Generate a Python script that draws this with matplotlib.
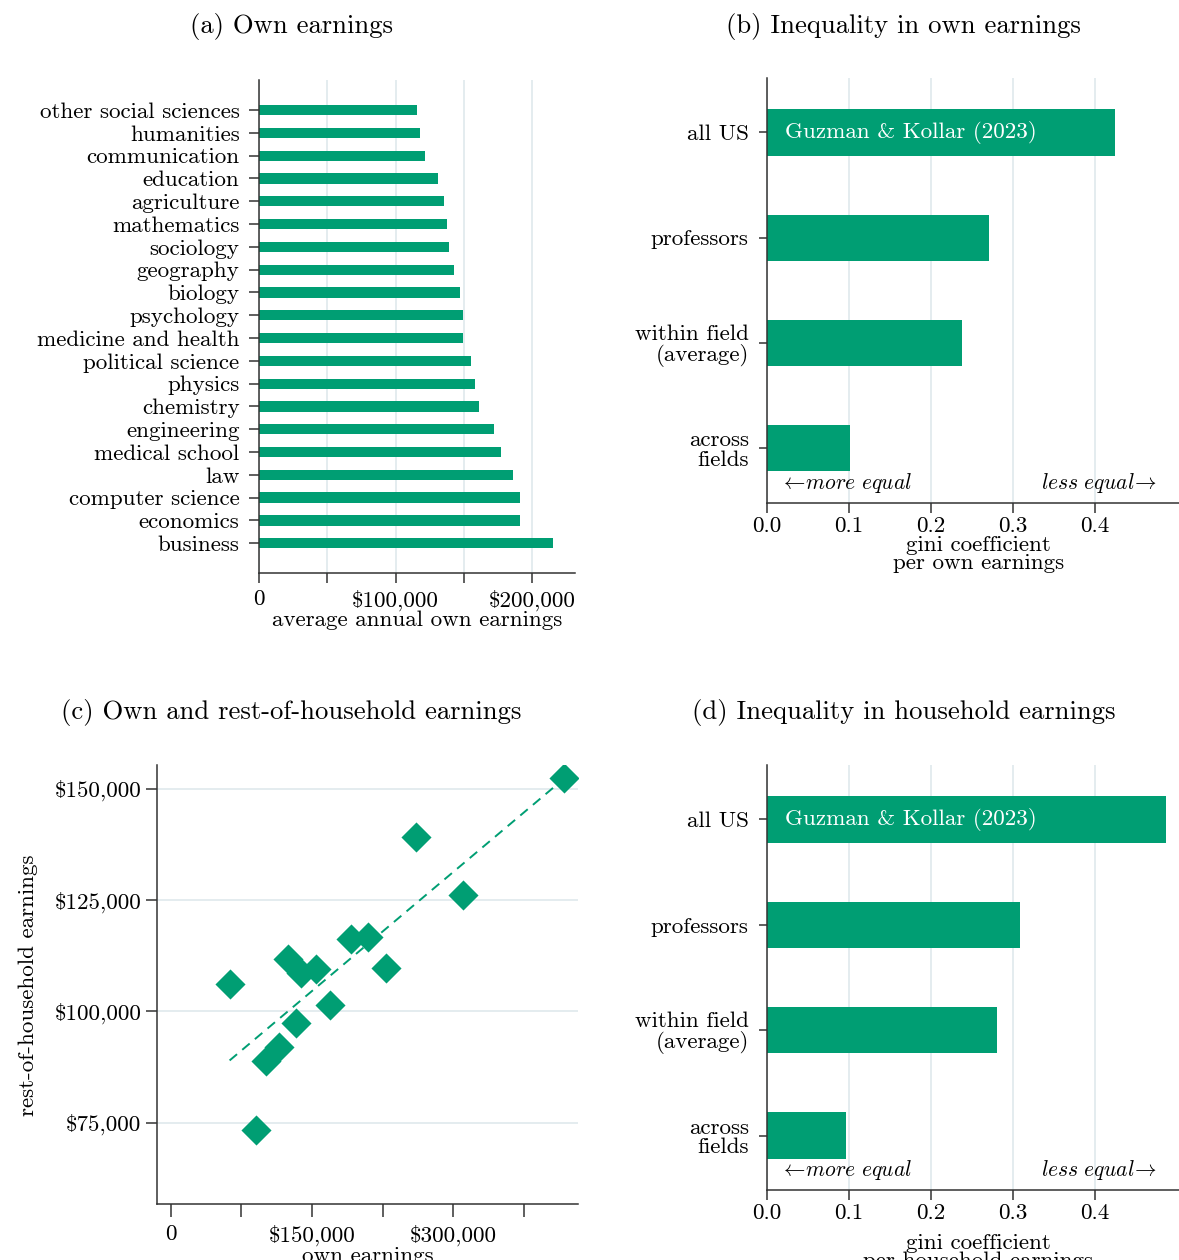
import numpy as np
import matplotlib
matplotlib.use("Agg")
import matplotlib.pyplot as plt
from matplotlib.transforms import blended_transform_factory

plt.rcParams['font.family'] = 'cmr10'
plt.rcParams['mathtext.fontset'] = 'cm'
plt.rcParams['axes.unicode_minus'] = False

GREEN = '#009E73'
GRID = '#E2EBEE'
SPINE = '#333333'
FS = 16.6
TFS = 19.2

# (a) average annual own earnings by field
fields = ['business', 'economics', 'computer science', 'law', 'medical school',
          'engineering', 'chemistry', 'physics', 'political science',
          'medicine and health', 'psychology', 'biology', 'geography',
          'sociology', 'mathematics', 'agriculture', 'education',
          'communication', 'humanities', 'other social sciences']
own_earn = [215000, 191000, 190600, 186000, 177300, 172300, 161300, 158300,
            155000, 149400, 149200, 147200, 142800, 138700, 137800, 135600,
            130900, 121500, 117700, 115800]

# (b) and (d) gini coefficients
gini_groups = ['across\nfields', 'within field\n(average)', 'professors', 'all US']
gini_own = [0.101, 0.238, 0.271, 0.424]
gini_household = [0.097, 0.281, 0.309, 0.487]

# (c) own vs rest-of-household earnings, one point per field
own_x = [62500, 124000, 138000, 154000, 191000, 209000, 228500, 169500,
         132500, 115000, 101000, 90000, 260000, 310000, 417000]
rest_y = [106200, 111700, 108500, 109400, 116300, 116700, 109600, 101500,
          97300, 91900, 88800, 73400, 139100, 126000, 152300]

fig = plt.figure(figsize=(11.79, 12.60), dpi=100)


def style_axes(ax):
    for side in ['top', 'right']:
        ax.spines[side].set_visible(False)
    for side in ['left', 'bottom']:
        ax.spines[side].set_color(SPINE)
        ax.spines[side].set_linewidth(1.1)
    ax.set_axisbelow(True)
    ax.tick_params(which='both', direction='out', color=SPINE, width=1.1,
                   labelsize=FS)


def money(v):
    return '0' if v == 0 else '\\$' + format(int(v), ',')


# ---- (a) own earnings ----
ax = fig.add_axes([0.21968, 0.54500, 0.26802, 0.39151])
style_axes(ax)
ypos = np.arange(len(fields))
ax.barh(ypos, own_earn, height=0.45, color=GREEN)
ax.set_ylim(-1.32, len(fields) - 1 + 1.32)
ax.set_xlim(0, 231200)
ax.set_yticks(ypos)
ax.set_yticklabels(fields)
ax.set_xticks([0, 100000, 200000])
ax.set_xticklabels([money(v) for v in [0, 100000, 200000]])
ax.set_xticks([50000, 150000], minor=True)
ax.tick_params(axis='y', length=7, pad=7)
ax.tick_params(axis='x', which='both', length=7, pad=5)
ax.xaxis.grid(True, which='both', color=GRID, lw=1.3)
ax.set_xlabel('average annual own earnings', fontsize=FS, va='center')
ax.xaxis.set_label_coords(0.5, -0.0950)
fig.text(291 / 1179, 1 - 26 / 1260, '(a) Own earnings', fontsize=TFS,
         ha='center', va='center')


def gini_panel(ax, values, xlabel, label_y):
    style_axes(ax)
    pos = np.arange(len(gini_groups))
    ax.barh(pos, values, height=0.44, color=GREEN)
    ax.set_ylim(-0.517, 3.517)
    ax.set_xlim(0, 0.516)
    ax.set_yticks(pos)
    ax.set_yticklabels(gini_groups, linespacing=1.0)
    for lab in ax.get_yticklabels():
        if '\n' in lab.get_text():
            lab.set_y(lab.get_position()[1] + 0.04)
    ax.set_xticks([0, 0.1, 0.2, 0.3, 0.4])
    ax.set_xticklabels(['0.0', '0.1', '0.2', '0.3', '0.4'])
    ax.tick_params(axis='y', length=6, pad=7)
    ax.tick_params(axis='x', length=7, pad=3)
    ax.xaxis.grid(True, color=GRID, lw=1.3)
    ax.set_xlabel(xlabel, fontsize=FS, va='center', linespacing=0.92)
    ax.xaxis.set_label_coords(0.5, label_y)
    ax.text(0.022, pos[-1], 'Guzman & Kollar (2023)', color='white',
            fontsize=FS, va='center', ha='left')
    tr = blended_transform_factory(ax.transData, ax.transAxes)
    ax.text(0.016, 0.046, r'$\leftarrow\!\mathit{more\ equal}$', transform=tr,
            fontsize=15.5, ha='left', va='center')
    ax.text(0.475, 0.046, r'$\mathit{less\ equal}\!\rightarrow$', transform=tr,
            fontsize=15.5, ha='right', va='center')


# ---- (b) inequality in own earnings ----
ax = fig.add_axes([0.65030, 0.60103, 0.35903, 0.33706])
gini_panel(ax, gini_own, 'gini coefficient\nper own earnings', -0.121)
fig.text(903.5 / 1179, 1 - 26 / 1260, '(b) Inequality in own earnings',
         fontsize=TFS, ha='center', va='center')

# ---- (c) own vs rest-of-household earnings ----
ax = fig.add_axes([0.13291, 0.04444, 0.35759, 0.34841])
style_axes(ax)
ax.scatter(own_x, rest_y, marker='D', s=235, color=GREEN, linewidths=0,
           zorder=3)
slope, icpt = np.polyfit(own_x, rest_y, 1)
xs = np.array([min(own_x), max(own_x)])
ax.plot(xs, icpt + slope * xs, color=GREEN, lw=1.4, ls=(0, (5, 3.5)),
        zorder=2)
ax.set_xlim(-14900, 432700)
ax.set_ylim(56700, 155300)
yt = [75000, 100000, 125000, 150000]
ax.set_yticks(yt)
ax.set_yticklabels([money(v) for v in yt])
ax.set_xticks([0, 150000, 300000])
ax.set_xticklabels([money(v) for v in [0, 150000, 300000]])
ax.set_xticks([75000, 225000, 375000], minor=True)
ax.tick_params(axis='y', length=8, pad=3)
ax.tick_params(axis='x', which='both', length=9, pad=6)
ax.yaxis.grid(True, color=GRID, lw=1.3)
ax.set_xlabel('own earnings', fontsize=FS, va='center')
ax.xaxis.set_label_coords(0.5, -0.12)
ax.set_ylabel('rest-of-household earnings', fontsize=FS, va='center')
ax.yaxis.set_label_coords(-0.304, 0.499)
fig.text(291 / 1179, 1 - 713 / 1260, '(c) Own and rest-of-household earnings',
         fontsize=TFS, ha='center', va='center')

# ---- (d) inequality in household earnings ----
ax = fig.add_axes([0.65030, 0.05556, 0.35903, 0.33730])
gini_panel(ax, gini_household, 'gini coefficient\nper household earnings',
           -0.146)
fig.text(903.5 / 1179, 1 - 713 / 1260, '(d) Inequality in household earnings',
         fontsize=TFS, ha='center', va='center')

fig.savefig('out.png', dpi=100)
